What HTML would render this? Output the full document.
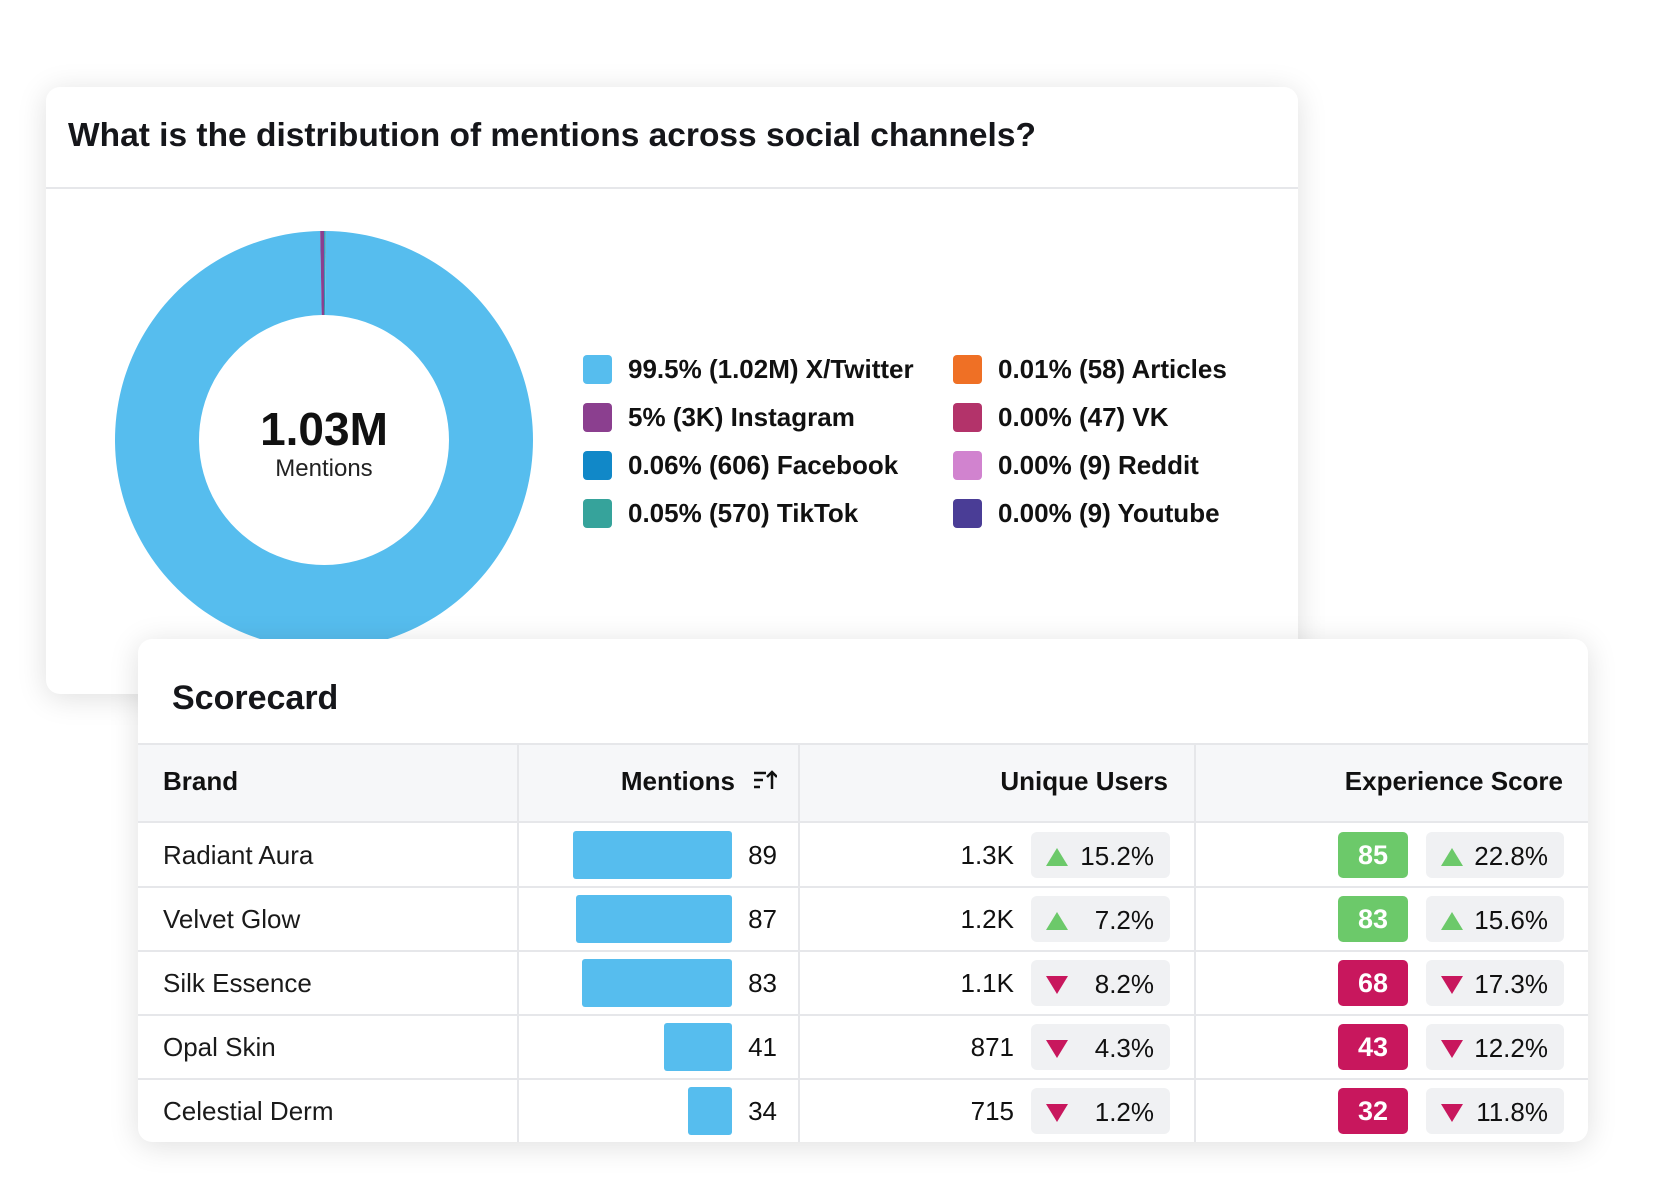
<!DOCTYPE html>
<html><head><meta charset="utf-8">
<style>
body{margin:0;width:1668px;height:1200px;background:#fff;font-family:"Liberation Sans",sans-serif;position:relative;overflow:hidden;color:#111}
.card{position:absolute;background:#fff;border-radius:14px;box-shadow:0 4px 30px rgba(0,0,0,0.13)}
</style></head><body>
<div class="card" style="left:46px;top:87px;width:1252px;height:607px;">
  <div style="position:absolute;left:22px;top:30px;font-size:33.5px;font-weight:bold;color:#15161a;">What is the distribution of mentions across social channels?</div>
  <div style="position:absolute;left:0;right:0;top:100px;height:2px;background:#e6e7ea;"></div>
</div>
<svg id="donut" width="1668" height="640" style="position:absolute;left:0;top:0;"></svg>
<div style="position:absolute;left:224px;top:402px;width:200px;text-align:center;font-size:46px;font-weight:bold;color:#111;">1.03M</div>
<div style="position:absolute;left:224px;top:455px;width:200px;text-align:center;font-size:24px;color:#222;">Mentions</div>
<div id="legend"></div>

<div class="card" style="left:138px;top:639px;width:1450px;height:503px;overflow:hidden;">
  <div style="position:absolute;left:34px;top:40px;font-size:34px;font-weight:bold;color:#15161a;">Scorecard</div>
  <div style="position:absolute;left:0;right:0;top:104px;height:80px;background:#f6f7f9;border-top:2px solid #e6e7ea;border-bottom:2px solid #e6e7ea;box-sizing:border-box;"></div>
  <div id="tbl"></div>
</div>
<script>
const channels=["X/Twitter","Instagram","Facebook","TikTok","Articles","VK","Reddit","Youtube"];
const channelCounts=[1020000,3000,606,570,58,47,9,9];
const channelLabels=["99.5% (1.02M)","5% (3K)","0.06% (606)","0.05% (570)","0.01% (58)","0.00% (47)","0.00% (9)","0.00% (9)"];
const channelColors=["#56bdee","#8b3f8f","#1188c8","#36a39b","#ef7025","#b3336a","#d183cf","#4a3d96"];
const drawOrder=[2,3,4,5,6,7,0,1];

const brands=["Radiant Aura","Velvet Glow","Silk Essence","Opal Skin","Celestial Derm"];
const mentions=[89,87,83,41,34];
const users=["1.3K","1.2K","1.1K","871","715"];
const userChange=[15.2,7.2,-8.2,-4.3,-1.2];
const scores=[85,83,68,43,32];
const scoreChange=[22.8,15.6,-17.3,-12.2,-11.8];

const NS="http://www.w3.org/2000/svg";
const svg=document.getElementById('donut');
const cx=324,cy=440,R=209,r=125;
const total=channelCounts.reduce((a,b)=>a+b,0);
function ang(v){return v/total*Math.PI*2;}
function pt(a,rad){return [cx+rad*Math.sin(a),cy-rad*Math.cos(a)];}
let a0=0;
drawOrder.forEach(i=>{
  const a1=a0+ang(channelCounts[i]);
  const large=(a1-a0)>Math.PI?1:0;
  const p1=pt(a0,R),p2=pt(a1,R),p3=pt(a1,r),p4=pt(a0,r);
  const p=document.createElementNS(NS,'path');
  p.setAttribute('d',`M${p1[0]},${p1[1]}A${R},${R} 0 ${large} 1 ${p2[0]},${p2[1]}L${p3[0]},${p3[1]}A${r},${r} 0 ${large} 0 ${p4[0]},${p4[1]}Z`);
  p.setAttribute('fill',channelColors[i]);
  
  
  svg.appendChild(p);
  a0=a1;
});
const leg=document.getElementById('legend');
channels.forEach((c,i)=>{
  const col=Math.floor(i/4),row=i%4;
  const e=document.createElement('div');
  
  
  e.style.cssText=`position:absolute;left:${583+col*370}px;top:${355+row*48}px;height:29px;display:flex;align-items:center;white-space:nowrap;font-size:26px;font-weight:bold;color:#111;`;
  e.innerHTML=`<span style="display:inline-block;width:29px;height:29px;border-radius:4px;background:${channelColors[i]};margin-right:16px"></span>${channelLabels[i]} ${c}`;
  leg.appendChild(e);
});
const tbl=document.getElementById('tbl');
function add(html,css,name){const d=document.createElement('div');d.style.cssText='position:absolute;'+css;d.innerHTML=html;tbl.appendChild(d);return d;}
const hy=104,rowTop=184,rh=64;
[379,660,1056].forEach(x=>add('',`left:${x}px;top:${hy}px;width:2px;height:${rowTop-hy+rh*5}px;background:#e6e7ea;`,'column-divider'));
add('Brand',`left:25px;top:127px;font-size:26px;font-weight:bold;`,'brand-header');
add('Mentions',`right:${1450-597}px;top:127px;font-size:26px;font-weight:bold;`,'mentions-header');
add('<svg width="24" height="22"><path d="M1 4h12M1 11h9M1 18h6" stroke="#111" stroke-width="2.5"/><path d="M19 20V3M14 8l5-5 5 5" stroke="#111" stroke-width="2.5" fill="none"/></svg>',`left:615px;top:130px;`,'sort-icon');
add('Unique Users',`right:${1450-1030}px;top:127px;font-size:26px;font-weight:bold;`,'unique-users-header');
add('Experience Score',`right:${1450-1425}px;top:127px;font-size:26px;font-weight:bold;`,'experience-score-header');
const barRight=594,barMax=159,vMin=28,vMax=89;
function bw(v){return Math.pow((v-vMin)/(vMax-vMin),0.55)*barMax;}
function tri(up){return up?'<svg width="24" height="20"><path d="M12 1L23 19H1Z" fill="#6cc96a"/></svg>':'<svg width="24" height="20"><path d="M1 1H23L12 19Z" fill="#c8175d"/></svg>';}
brands.forEach((b,i)=>{
  const y=rowTop+i*rh;
  if(i>0) add('',`left:0;right:0;top:${y-1}px;height:2px;background:#e6e7ea;`,'row-divider');
  add(b,`left:25px;top:${y+17}px;font-size:26px;color:#1a1a1a;`,'brand-name');
  const w=bw(mentions[i]);
  add('',`left:${barRight-w}px;top:${y+8}px;width:${w}px;height:48px;background:#56bdee;border-radius:3px;`,'mentions-bar');
  add(String(mentions[i]),`right:${1450-639}px;top:${y+17}px;font-size:26px;`,'mentions-value');
  add(users[i],`right:${1450-876}px;top:${y+17}px;font-size:26px;`,'unique-users-value');
  add(`<span style="position:absolute;left:14px;top:11px">${tri(userChange[i]>0)}</span><span style="position:absolute;right:16px;top:9px">${Math.abs(userChange[i]).toFixed(1)}%</span>`,`left:893px;top:${y+9}px;width:139px;height:46px;background:#f0f1f3;border-radius:6px;font-size:26px;`,'users-change-pill');
  add(String(scores[i]),`left:1200px;top:${y+9}px;width:70px;height:46px;line-height:46px;text-align:center;color:#fff;font-weight:bold;font-size:27px;border-radius:5px;background:${scores[i]>=70?'#6cc96a':'#c8175d'};`,'score-badge');
  add(`<span style="position:absolute;left:14px;top:11px">${tri(scoreChange[i]>0)}</span><span style="position:absolute;right:16px;top:9px">${Math.abs(scoreChange[i]).toFixed(1)}%</span>`,`left:1288px;top:${y+9}px;width:138px;height:46px;background:#f0f1f3;border-radius:6px;font-size:26px;`,'score-change-pill');
});
</script>
</body></html>
